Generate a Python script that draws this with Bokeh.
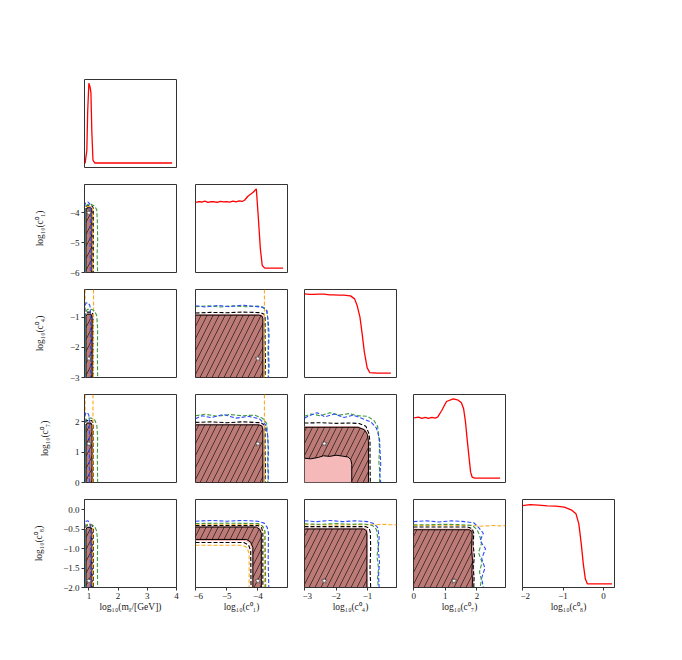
from bokeh.plotting import figure
from bokeh.layouts import gridplot
from bokeh.models import Range1d
from bokeh.embed import file_html
from bokeh.resources import INLINE

# ---------------- axes / parameters ----------------
PARAM_LABELS = ["log₁₀(mᵪ/[GeV])", "log₁₀(c⁰₁)", "log₁₀(c⁰₄)", "log₁₀(c⁰₇)", "log₁₀(c⁰₈)"]
PARAM_RANGES = [(0.85, 4.0), (-6.0, -3.05), (-3.0, -0.08), (0.0, 2.9), (-2.0, 0.27)]
X_TICKS = [[1, 2, 3, 4], [-6, -5, -4], [-3, -2, -1], [0, 1, 2], [-2, -1, 0]]
X_TICK_LABELS = [["1", "2", "3", "4"], ["−6", "−5", "−4"], ["−3", "−2", "−1"], ["0", "1", "2"], ["−2", "−1", "0"]]
Y_TICKS = [None, [-6, -5, -4], [-3, -2, -1], [0, 1, 2], [-2.0, -1.5, -1.0, -0.5, 0.0]]
Y_TICK_LABELS = [None, ["−6", "−5", "−4"], ["−3", "−2", "−1"], ["0", "1", "2"],
                 ["−2.0", "−1.5", "−1.0", "−0.5", "0.0"]]
BEST_FIT = [1.0, -4.0, -2.37, 1.28, -1.83]

# ---------------- 1D profiles (diagonal) ----------------
PROF_MX_X = [0.87, 0.93, 0.96, 1.0, 1.04, 1.07, 1.1, 1.14, 1.2, 1.5, 2.0, 2.5, 3.0, 3.5, 3.85]
PROF_MX_Y = [0.05, 0.21, 0.7, 1.035, 0.99, 0.92, 0.45, 0.09, 0.055, 0.055, 0.055, 0.055, 0.055, 0.055, 0.055]

PROF_C1_X = [-5.98, -5.9, -5.8, -5.7, -5.6, -5.5, -5.4, -5.3, -5.2, -5.1, -5.0, -4.9, -4.8, -4.7, -4.6,
             -4.5, -4.42, -4.32, -4.15, -4.05, -3.99, -3.92, -3.86, -3.78, -3.6, -3.4, -3.19]
PROF_C1_Y = [0.86, 0.87, 0.865, 0.875, 0.86, 0.87, 0.868, 0.862, 0.872, 0.866, 0.87, 0.863, 0.875, 0.868,
             0.88, 0.872, 0.89, 0.936, 0.985, 1.027, 0.70, 0.29, 0.086, 0.053, 0.053, 0.053, 0.053]

PROF_C4_X = [-3.0, -2.85, -2.7, -2.55, -2.38, -2.2, -2.07, -1.9, -1.75, -1.62, -1.54, -1.41, -1.33, -1.24,
             -1.17, -1.1, -1.01, -0.93, -0.7, -0.5, -0.26]
PROF_C4_Y = [1.027, 1.02, 1.019, 1.024, 1.023, 1.015, 1.015, 1.012, 1.01, 1.006, 1.002, 0.965, 0.884, 0.74,
             0.536, 0.311, 0.118, 0.061, 0.053, 0.053, 0.053]

PROF_C7_X = [0.02, 0.16, 0.26, 0.37, 0.47, 0.58, 0.68, 0.76, 0.89, 1.04, 1.25, 1.41, 1.51, 1.58, 1.64,
             1.69, 1.75, 1.8, 1.85, 1.93, 2.3, 2.73]
PROF_C7_Y = [0.794, 0.802, 0.786, 0.798, 0.786, 0.798, 0.79, 0.802, 0.884, 0.994, 1.027, 1.01, 0.978,
             0.904, 0.74, 0.536, 0.311, 0.127, 0.065, 0.053, 0.053, 0.053]

PROF_C8_X = [-2.0, -1.815, -1.6, -1.39, -1.18, -0.97, -0.8, -0.68, -0.61, -0.55, -0.5, -0.45, -0.4, 0.0, 0.21]
PROF_C8_Y = [1.006, 1.018, 1.01, 1.002, 0.998, 0.986, 0.953, 0.904, 0.781, 0.536, 0.29, 0.106, 0.045,
             0.045, 0.045]

PROFILES = [(PROF_MX_X, PROF_MX_Y), (PROF_C1_X, PROF_C1_Y), (PROF_C4_X, PROF_C4_Y),
            (PROF_C7_X, PROF_C7_Y), (PROF_C8_X, PROF_C8_Y)]

# ---------------- 2D contours (data coordinates) ----------------
P10 = dict(  # x = m_chi, y = c1
    pink=([0.885, 0.885, 0.92, 1.09, 1.125, 1.125], [-6, -3.87, -3.79, -3.79, -3.87, -6]),
    brown=([0.90, 0.90, 0.94, 1.07, 1.11, 1.11], [-6, -3.9, -3.83, -3.83, -3.9, -6]),
    dash=[([0.875, 0.875, 0.92, 1.1, 1.15, 1.15], [-6, -3.84, -3.76, -3.76, -3.84, -6])],
    orange=[([0.88, 0.88, 0.93, 1.08, 1.13, 1.13], [-6, -3.86, -3.79, -3.79, -3.86, -6])],
    green=[([0.89, 0.89, 0.95, 1.08, 1.2, 1.27, 1.29, 1.3, 1.28, 1.3],
            [-6, -3.8, -3.72, -3.71, -3.78, -3.9, -4.3, -4.9, -5.4, -6])],
    blue=[([0.865, 0.865, 0.9, 0.97, 1.03, 1.05, 1.05, 1.04, 1.05],
           [-6, -3.72, -3.65, -3.64, -3.7, -3.8, -4.5, -5.2, -6])],
)
P20 = dict(  # x = m_chi, y = c4
    pink=([0.885, 0.885, 0.92, 1.09, 1.125, 1.125], [-3, -0.95, -0.86, -0.86, -0.95, -3]),
    brown=([0.90, 0.90, 0.94, 1.07, 1.11, 1.11], [-3, -0.98, -0.9, -0.9, -0.98, -3]),
    dash=[([0.875, 0.875, 0.92, 1.1, 1.15, 1.15], [-3, -0.92, -0.83, -0.83, -0.92, -3])],
    orange=[([0.87, 0.87], [-3, -0.08]), ([1.16, 1.16], [-3, -0.08])],
    green=[([0.89, 0.89, 0.95, 1.1, 1.2, 1.27, 1.3, 1.29, 1.3],
            [-3, -0.82, -0.74, -0.74, -0.8, -0.95, -1.4, -2.2, -3])],
    blue=[([0.865, 0.865, 0.9, 0.97, 1.03, 1.05, 1.05], [-3, -0.62, -0.53, -0.52, -0.6, -0.75, -3])],
)
P30 = dict(  # x = m_chi, y = c7
    pink=([0.885, 0.885, 0.92, 1.09, 1.125, 1.125], [0, 1.92, 2.0, 2.0, 1.92, 0]),
    brown=([0.90, 0.90, 0.94, 1.07, 1.11, 1.11], [0, 1.88, 1.96, 1.96, 1.88, 0]),
    dash=[([0.875, 0.875, 0.92, 1.1, 1.15, 1.15], [0, 1.96, 2.04, 2.04, 1.96, 0])],
    orange=[([0.87, 0.87], [0, 2.9]), ([1.14, 1.14], [0, 2.9])],
    green=[([0.89, 0.89, 0.95, 1.1, 1.2, 1.27, 1.3, 1.29, 1.3],
            [0, 2.04, 2.12, 2.12, 2.06, 1.9, 1.5, 0.8, 0])],
    blue=[([0.865, 0.865, 0.9, 0.95, 1.0, 1.02, 1.02], [0, 2.2, 2.3, 2.31, 2.22, 2.0, 0])],
)
P40 = dict(  # x = m_chi, y = c8
    pink=([0.885, 0.885, 0.92, 1.09, 1.125, 1.125], [-2, -0.48, -0.42, -0.42, -0.48, -2]),
    brown=([0.90, 0.90, 0.94, 1.07, 1.11, 1.11], [-2, -0.51, -0.45, -0.45, -0.51, -2]),
    dash=[([0.875, 0.875, 0.92, 1.1, 1.15, 1.15], [-2, -0.45, -0.39, -0.39, -0.45, -2])],
    orange=[([0.88, 0.88, 0.93, 1.08, 1.13, 1.13], [-2, -0.44, -0.37, -0.37, -0.44, -2])],
    green=[([0.89, 0.89, 0.95, 1.1, 1.2, 1.27, 1.3, 1.29, 1.3],
            [-2, -0.44, -0.38, -0.38, -0.43, -0.55, -0.85, -1.4, -2])],
    blue=[([0.865, 0.865, 0.9, 0.97, 1.03, 1.05, 1.05], [-2, -0.35, -0.29, -0.28, -0.33, -0.42, -2])],
)
P21 = dict(  # x = c1, y = c4
    pink=([-6, -6, -3.95, -3.84, -3.80, -3.80], [-3, -0.89, -0.89, -0.92, -1.0, -3]),
    brown=([-6, -6, -3.97, -3.87, -3.84, -3.84], [-3, -0.93, -0.93, -0.96, -1.05, -3]),
    dash=[([-6, -5.5, -5.0, -4.5, -4.1, -3.9, -3.8, -3.77, -3.77, -3.76, -3.77],
           [-0.86, -0.84, -0.85, -0.83, -0.84, -0.85, -0.9, -1.0, -1.8, -2.5, -3])],
    orange=[([-3.79, -3.79], [-3, -0.08])],
    green=[([-6, -5.6, -5.2, -4.8, -4.4, -4.0, -3.8, -3.7, -3.68, -3.66, -3.68, -3.66, -3.67],
            [-0.65, -0.62, -0.66, -0.62, -0.65, -0.63, -0.68, -0.8, -1.2, -1.7, -2.2, -2.6, -3])],
    blue=[([-6, -5.7, -5.3, -4.9, -4.5, -4.1, -3.85, -3.72, -3.67, -3.64, -3.66, -3.64, -3.66],
           [-0.62, -0.66, -0.61, -0.65, -0.6, -0.64, -0.67, -0.78, -1.1, -1.6, -2.1, -2.6, -3])],
)
P31 = dict(  # x = c1, y = c7
    pink=([-6, -6, -3.95, -3.84, -3.80, -3.80], [0, 1.94, 1.94, 1.9, 1.8, 0]),
    brown=([-6, -6, -3.97, -3.87, -3.84, -3.84], [0, 1.9, 1.9, 1.86, 1.75, 0]),
    dash=[([-6, -5.5, -5, -4.5, -4.1, -3.9, -3.8, -3.77, -3.77, -3.76, -3.77],
           [1.98, 2.0, 1.97, 2.0, 1.98, 1.97, 1.9, 1.8, 1.0, 0.5, 0])],
    orange=[([-3.79, -3.79], [0, 2.9])],
    green=[([-6, -5.7, -5.3, -4.9, -4.5, -4.1, -3.85, -3.72, -3.69, -3.67, -3.69, -3.67, -3.68],
            [2.2, 2.25, 2.18, 2.24, 2.2, 2.22, 2.12, 1.95, 1.6, 1.1, 0.7, 0.3, 0])],
    blue=[([-6, -5.8, -5.5, -5.1, -4.7, -4.3, -3.95, -3.75, -3.68, -3.66, -3.68, -3.66, -3.67],
           [2.1, 2.2, 2.14, 2.24, 2.12, 2.18, 2.1, 1.9, 1.5, 1.0, 0.6, 0.25, 0])],
)
P32 = dict(  # x = c4, y = c7
    pink=([-3, -3, -1.3, -1.05, -0.94, -0.94], [0, 1.86, 1.86, 1.75, 1.5, 0]),
    brown=([-3, -1.3, -1.1, -1.0, -0.97, -0.97, -1.5, -1.5, -1.53, -1.62, -1.8, -2.0, -2.2, -2.4, -2.55, -2.8, -3],
           [1.82, 1.82, 1.74, 1.58, 1.35, 0, 0, 0.6, 0.75, 0.84, 0.87, 0.9, 0.86, 0.88, 0.83, 0.78, 0.8]),
    dash=[([-3, -2.5, -2.0, -1.5, -1.25, -1.05, -0.95, -0.92, -0.92, -0.91],
           [1.96, 1.97, 1.95, 1.96, 1.94, 1.85, 1.6, 1.3, 0.6, 0])],
    orange=[],
    green=[([-3, -2.8, -2.5, -2.2, -1.9, -1.6, -1.3, -1.0, -0.8, -0.68, -0.64, -0.62, -0.64, -0.61, -0.62],
            [2.18, 2.26, 2.2, 2.3, 2.22, 2.27, 2.2, 2.18, 2.05, 1.85, 1.5, 1.1, 0.7, 0.3, 0])],
    blue=[([-3, -2.85, -2.6, -2.35, -2.05, -1.75, -1.45, -1.15, -0.9, -0.72, -0.62, -0.6, -0.58, -0.61, -0.58],
           [2.12, 2.2, 2.3, 2.16, 2.26, 2.14, 2.22, 2.1, 2.0, 1.8, 1.45, 1.0, 0.6, 0.25, 0])],
)
P41 = dict(  # x = c1, y = c8
    pink=([-6, -4.02, -3.91, -3.86, -3.86, -4.20, -4.20, -4.27, -4.4, -6],
          [-0.41, -0.41, -0.47, -0.58, -2, -2, -1.0, -0.86, -0.80, -0.80]),
    brown=([-6, -4.05, -3.94, -3.89, -3.89, -4.16, -4.16, -4.23, -4.36, -6],
           [-0.44, -0.44, -0.5, -0.6, -2, -2, -0.97, -0.83, -0.76, -0.76]),
    dash=[([-6, -4.0, -3.88, -3.84, -3.84], [-0.40, -0.40, -0.46, -0.58, -2]),
          ([-6, -4.45, -4.3, -4.23, -4.22], [-0.84, -0.84, -0.9, -1.05, -2])],
    orange=[([-6, -3.95, -3.83, -3.79, -3.79], [-0.37, -0.37, -0.43, -0.56, -2]),
            ([-6, -4.5, -4.35, -4.28, -4.28], [-0.91, -0.91, -0.97, -1.12, -2])],
    green=[([-6, -5, -4, -3.85, -3.77, -3.76, -3.75], [-0.35, -0.34, -0.35, -0.42, -0.55, -1.2, -2])],
    blue=[([-6, -5.5, -5.0, -4.5, -4.0, -3.8, -3.7, -3.66, -3.67, -3.65],
           [-0.29, -0.27, -0.29, -0.27, -0.29, -0.34, -0.45, -0.6, -1.3, -2])],
)
P42 = dict(  # x = c4, y = c8
    pink=([-3, -3, -1.1, -1.0, -0.98, -0.98], [-2, -0.46, -0.46, -0.5, -0.6, -2]),
    brown=([-3, -3, -1.12, -1.04, -1.02, -1.02], [-2, -0.49, -0.49, -0.53, -0.62, -2]),
    dash=[([-3, -2, -1.05, -0.95, -0.91, -0.9, -0.92, -0.9], [-0.43, -0.43, -0.43, -0.47, -0.58, -1.0, -1.5, -2])],
    orange=[([-3, -2.5, -2, -1.5, -1.0, -0.7, -0.5, -0.3, -0.08],
             [-0.38, -0.38, -0.39, -0.38, -0.38, -0.38, -0.37, -0.38, -0.38])],
    green=[([-3, -2.5, -2, -1.5, -1.1, -0.85, -0.72, -0.68, -0.66, -0.7, -0.65, -0.68, -0.66],
            [-0.36, -0.37, -0.35, -0.37, -0.36, -0.4, -0.5, -0.7, -0.95, -1.2, -1.5, -1.75, -2])],
    blue=[([-3, -2.6, -2.2, -1.8, -1.4, -1.0, -0.8, -0.68, -0.63, -0.66, -0.62, -0.65, -0.63],
           [-0.28, -0.3, -0.27, -0.3, -0.28, -0.3, -0.35, -0.45, -0.7, -1.0, -1.35, -1.7, -2])],
)
P43 = dict(  # x = c7, y = c8
    pink=([0, 0, 1.8, 1.88, 1.9, 1.9, 1.92, 1.9], [-2, -0.48, -0.48, -0.51, -0.6, -1.2, -1.6, -2]),
    brown=([0, 0, 1.76, 1.84, 1.85, 1.83, 1.86, 1.84, 1.86, 1.85],
           [-2, -0.51, -0.51, -0.55, -0.65, -1.0, -1.3, -1.6, -1.8, -2]),
    dash=[([0, 0.8, 1.7, 1.85, 1.9, 1.88, 1.92, 1.88, 1.91, 1.9],
           [-0.44, -0.44, -0.44, -0.48, -0.6, -0.9, -1.2, -1.5, -1.75, -2])],
    orange=[([0, 0.5, 1.0, 1.5, 1.9, 2.1, 2.3, 2.5, 2.7, 2.9],
             [-0.40, -0.40, -0.39, -0.40, -0.40, -0.42, -0.41, -0.40, -0.41, -0.40])],
    green=[([0, 0.5, 1.0, 1.5, 1.85, 2.0, 2.08, 2.15, 2.05, 2.16, 2.08, 2.14, 2.1],
            [-0.38, -0.38, -0.37, -0.38, -0.4, -0.5, -0.65, -0.85, -1.1, -1.35, -1.6, -1.8, -2])],
    blue=[([0, 0.4, 0.8, 1.2, 1.6, 1.9, 2.05, 2.2, 2.1, 2.27, 2.15, 2.25, 2.15, 2.2],
           [-0.30, -0.28, -0.31, -0.28, -0.30, -0.33, -0.45, -0.6, -0.8, -1.0, -1.25, -1.5, -1.75, -2])],
)
PANELS = {(1, 0): P10, (2, 0): P20, (3, 0): P30, (4, 0): P40,
          (2, 1): P21, (3, 1): P31, (4, 1): P41,
          (3, 2): P32, (4, 2): P42, (4, 3): P43}

# ---------------- styles ----------------
BROWN = "#bd7b78"
PINK = "#f6b9b9"
ORANGE = "#ffa91f"
GREEN = "#3d9a3d"
BLUE = "#2b4cff"
RED = "#ff0000"
FONT = "Liberation Serif"
FRAME_W, FRAME_H = 92, 88


def style_axes(p, row, col, diag):
    p.grid.visible = False
    p.outline_line_color = "#333333"
    p.outline_line_width = 1
    p.background_fill_color = "white"
    p.border_fill_color = "white"
    for ax in (p.xaxis[0], p.yaxis[0]):
        ax.major_tick_out = 3
        ax.major_tick_in = 0
        ax.minor_tick_line_color = None
        ax.major_tick_line_color = "#333333"
        ax.axis_line_color = "#333333"
        ax.major_label_text_font = FONT
        ax.major_label_text_font_size = "9px"
        ax.major_label_text_color = "#222222"
        ax.axis_label_text_font = FONT
        ax.axis_label_text_font_size = "9.5px"
        ax.axis_label_text_font_style = "normal"
        ax.axis_label_text_color = "#222222"
        ax.major_label_standoff = 2
    if row == 4:
        p.xaxis.ticker = X_TICKS[col]
        p.xaxis.major_label_overrides = {t: l for t, l in zip(X_TICKS[col], X_TICK_LABELS[col])}
        p.xaxis.axis_label = PARAM_LABELS[col]
        p.xaxis.axis_label_standoff = 0
    else:
        p.xaxis.visible = False
    if col == 0 and not diag:
        p.yaxis.ticker = Y_TICKS[row]
        p.yaxis.major_label_overrides = {t: l for t, l in zip(Y_TICKS[row], Y_TICK_LABELS[row])}
        p.yaxis.axis_label = PARAM_LABELS[row]
        p.yaxis.axis_label_standoff = 16 if row == 4 else 22
    else:
        p.yaxis.visible = False


def make_fig(row, col):
    diag = row == col
    xr = Range1d(*PARAM_RANGES[col])
    yr = Range1d(0, 1.08) if diag else Range1d(*PARAM_RANGES[row])
    p = figure(x_range=xr, y_range=yr, frame_width=FRAME_W, frame_height=FRAME_H,
               output_backend="svg", toolbar_location=None,
               min_border_left=84 if col == 0 else 2,
               min_border_right=15 if col > 0 else 17,
               min_border_top=79 if row == 0 else 2,
               min_border_bottom=45 if row == 4 else 15)
    style_axes(p, row, col, diag)
    if diag:
        xs, ys = PROFILES[col]
        p.line(xs, ys, line_color=RED, line_width=1.3)
        return p
    d = PANELS[(row, col)]
    p.patch(*d["pink"], fill_color=PINK, line_color=None)
    p.patch(*d["brown"], fill_color=BROWN, line_color="black", line_width=1,
            hatch_pattern="/", hatch_color="black", hatch_scale=12, hatch_weight=0.6)
    for xs, ys in d["dash"]:
        p.line(xs, ys, line_color="black", line_width=1.1, line_dash="4 2")
    for xs, ys in d["orange"]:
        p.line(xs, ys, line_color=ORANGE, line_width=1.1, line_dash="4 2")
    for xs, ys in d["green"]:
        p.line(xs, ys, line_color=GREEN, line_width=1.1, line_dash="4 2")
    for xs, ys in d["blue"]:
        p.line(xs, ys, line_color=BLUE, line_width=1.1, line_dash="4 2")
    p.scatter([BEST_FIT[col]], [BEST_FIT[row]], marker="star", size=6,
              fill_color="white", line_color="#333333", line_width=0.5)
    return p


grid = []
for r in range(5):
    row_figs = []
    for c in range(5):
        row_figs.append(make_fig(r, c) if c <= r else None)
    grid.append(row_figs)

layout = gridplot(grid, toolbar_location=None)
open("out.html", "w").write(file_html(layout, INLINE))
